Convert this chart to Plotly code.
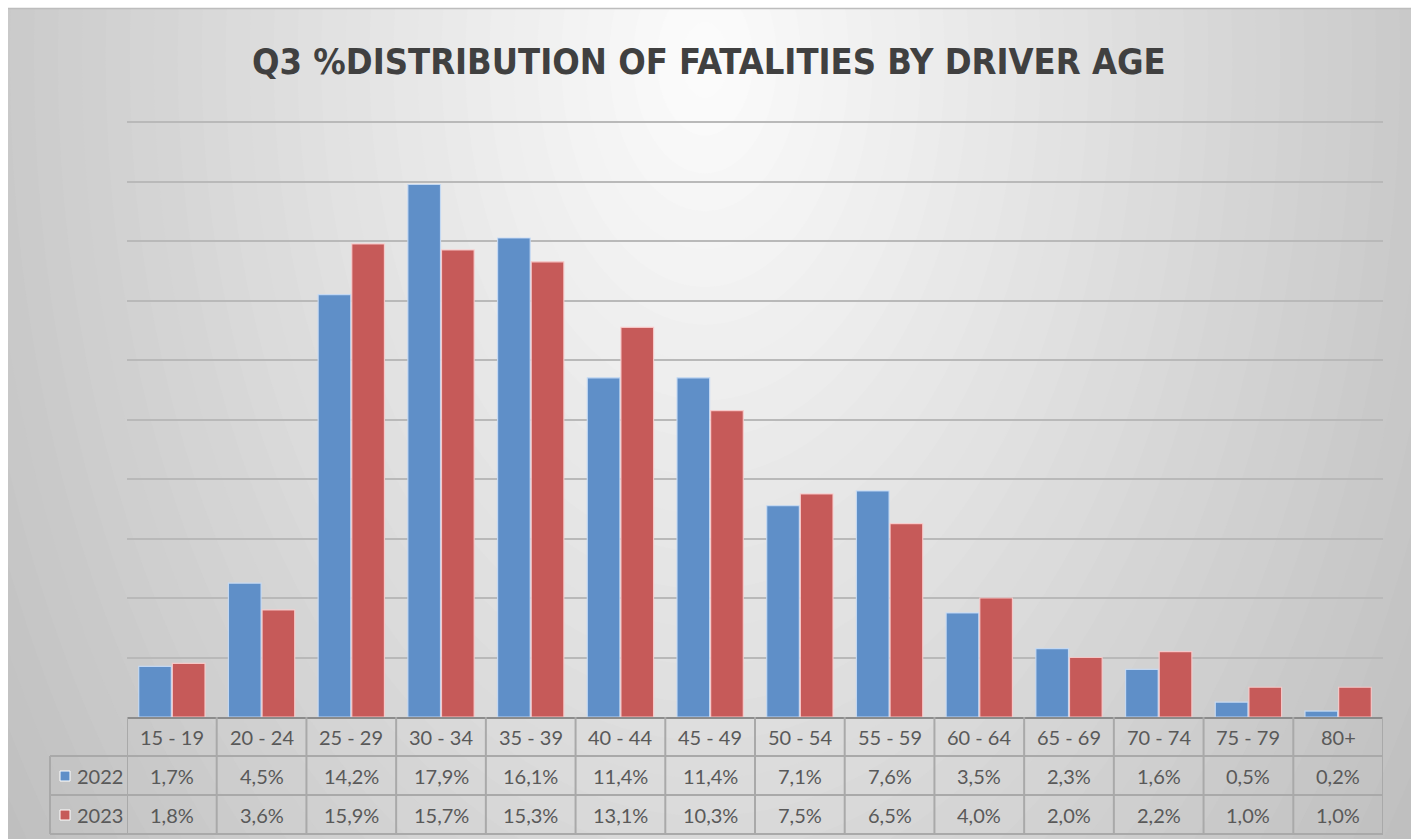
import numpy as np
import plotly.graph_objects as go

# Data
age_groups = ["15 - 19", "20 - 24", "25 - 29", "30 - 34", "35 - 39", "40 - 44", "45 - 49",
              "50 - 54", "55 - 59", "60 - 64", "65 - 69", "70 - 74", "75 - 79", "80+"]
pct_2022 = [1.7, 4.5, 14.2, 17.9, 16.1, 11.4, 11.4, 7.1, 7.6, 3.5, 2.3, 1.6, 0.5, 0.2]
pct_2023 = [1.8, 3.6, 15.9, 15.7, 15.3, 13.1, 10.3, 7.5, 6.5, 4.0, 2.0, 2.2, 1.0, 1.0]
series_names = ["2022", "2023"]
series_values = [pct_2022, pct_2023]

W, H = 1411, 839
BLUE = "#5F8FC8"
RED = "#C65A59"
series_colors = [BLUE, RED]
TEXT = "#595959"
FONT = "Lato"

Y_MAX = 20.4          # axis top, leaves room so the 20 % gridline is drawn
PX_PER_UNIT = 29.75   # vertical pixels per percentage point
BASE_PX = 717         # pixel row of the category axis line


def px_x(v):
    return v / W


def px_y(v):
    return 1 - v / H


fig = go.Figure()
for name, vals, col, edge in zip(series_names, series_values, series_colors,
                                 ["rgba(200,220,245,0.9)", "rgba(250,205,205,0.9)"]):
    fig.add_trace(go.Bar(x=age_groups, y=vals, name=name,
                         marker=dict(color=col, line=dict(color=edge, width=1.2))))

shapes = []
# radial background shading (light centre under the title, grey edges)
cx, cy = 705, 60
rx, ry = 767, 1210
steps = 48
dmax = 1.5
for i in range(steps):
    d = dmax * (1 - i / steps)
    g = int(round(max(190, 253 - 55 * d)))
    col = f"rgb({g},{g},{g})"
    shapes.append(dict(type="circle", xref="paper", yref="paper", layer="below",
                       x0=px_x(cx - rx * d), x1=px_x(cx + rx * d),
                       y0=px_y(cy + ry * d), y1=px_y(cy - ry * d),
                       fillcolor=col, line=dict(width=0)))
# outer white strip along top and left edges
shapes.append(dict(type="rect", xref="paper", yref="paper", layer="below",
                   x0=0, x1=1, y0=px_y(8), y1=1, fillcolor="white", line=dict(width=0)))
shapes.append(dict(type="rect", xref="paper", yref="paper", layer="below",
                   x0=0, x1=px_x(8), y0=0, y1=1, fillcolor="white", line=dict(width=0)))
shapes.append(dict(type="line", xref="paper", yref="paper", layer="below",
                   x0=px_x(8), x1=1, y0=px_y(8.5), y1=px_y(8.5),
                   line=dict(color="#bdbdbd", width=1.5)))

# data table grid
GRID = "#a9a9a9"
row_lines = [717, 756, 795, 834]
n = len(age_groups)
for yy in row_lines[1:]:
    shapes.append(dict(type="line", xref="paper", yref="paper",
                       x0=px_x(50), x1=px_x(1383), y0=px_y(yy), y1=px_y(yy),
                       line=dict(color=GRID, width=2)))
for i in range(n + 1):
    shapes.append(dict(type="line", xref="x", yref="paper",
                       x0=i - 0.5, x1=i - 0.5, y0=px_y(834), y1=px_y(717),
                       line=dict(color=GRID, width=2)))
shapes.append(dict(type="line", xref="paper", yref="paper",
                   x0=px_x(50), x1=px_x(50), y0=px_y(834), y1=px_y(756),
                   line=dict(color=GRID, width=2)))

annotations = []
cell_font = dict(family=FONT, size=20, color=TEXT)
# header row: age groups
for cat in age_groups:
    annotations.append(dict(x=cat, y=px_y(737), xref="x", yref="paper", text=cat,
                            xanchor="center", yanchor="middle",
                            showarrow=False, font=cell_font))
# value rows
row_centers = [776, 815]
for name, vals, col, yc in zip(series_names, series_values, series_colors, row_centers):
    for cat, v in zip(age_groups, vals):
        label = f"{v:.1f}%".replace(".", ",")
        annotations.append(dict(x=cat, y=px_y(yc), xref="x", yref="paper", text=label,
                                xanchor="center", yanchor="middle",
                                showarrow=False, font=cell_font))
    shapes.append(dict(type="rect", xref="paper", yref="paper",
                       x0=px_x(60), x1=px_x(70), y0=px_y(yc + 5), y1=px_y(yc - 5),
                       fillcolor=col, line=dict(color="white", width=1)))
    annotations.append(dict(x=px_x(75), y=px_y(yc), xref="paper", yref="paper", text=name,
                            xanchor="left", yanchor="middle", showarrow=False,
                            font=cell_font))

# title
annotations.append(dict(x=px_x(709), y=px_y(62), xref="paper", yref="paper",
                        text="<b>Q3 %DISTRIBUTION OF FATALITIES BY DRIVER AGE</b>",
                        xanchor="center", yanchor="middle", showarrow=False,
                        font=dict(family="DejaVu Sans Condensed, Roboto", size=36,
                                  color="#404040")))

fig.update_layout(
    width=W, height=H, autosize=False,
    margin=dict(l=0, r=0, t=0, b=0),
    paper_bgcolor="rgb(190,190,190)",
    plot_bgcolor="rgba(0,0,0,0)",
    barmode="group", bargap=0.25, bargroupgap=0.03,
    showlegend=False,
    shapes=shapes, annotations=annotations,
    xaxis=dict(domain=[px_x(127), px_x(1383)], range=[-0.5, n - 0.5],
               showticklabels=False, ticks="", showgrid=False,
               showline=True, linecolor="#8c8c8c", linewidth=2, zeroline=False),
    yaxis=dict(domain=[px_y(BASE_PX), px_y(BASE_PX - Y_MAX * PX_PER_UNIT)],
               range=[0, Y_MAX], dtick=2,
               showticklabels=False, ticks="", showgrid=True,
               gridcolor="#b9b9b9", gridwidth=1.5, zeroline=False, showline=False),
)

fig.write_html("out.html")
